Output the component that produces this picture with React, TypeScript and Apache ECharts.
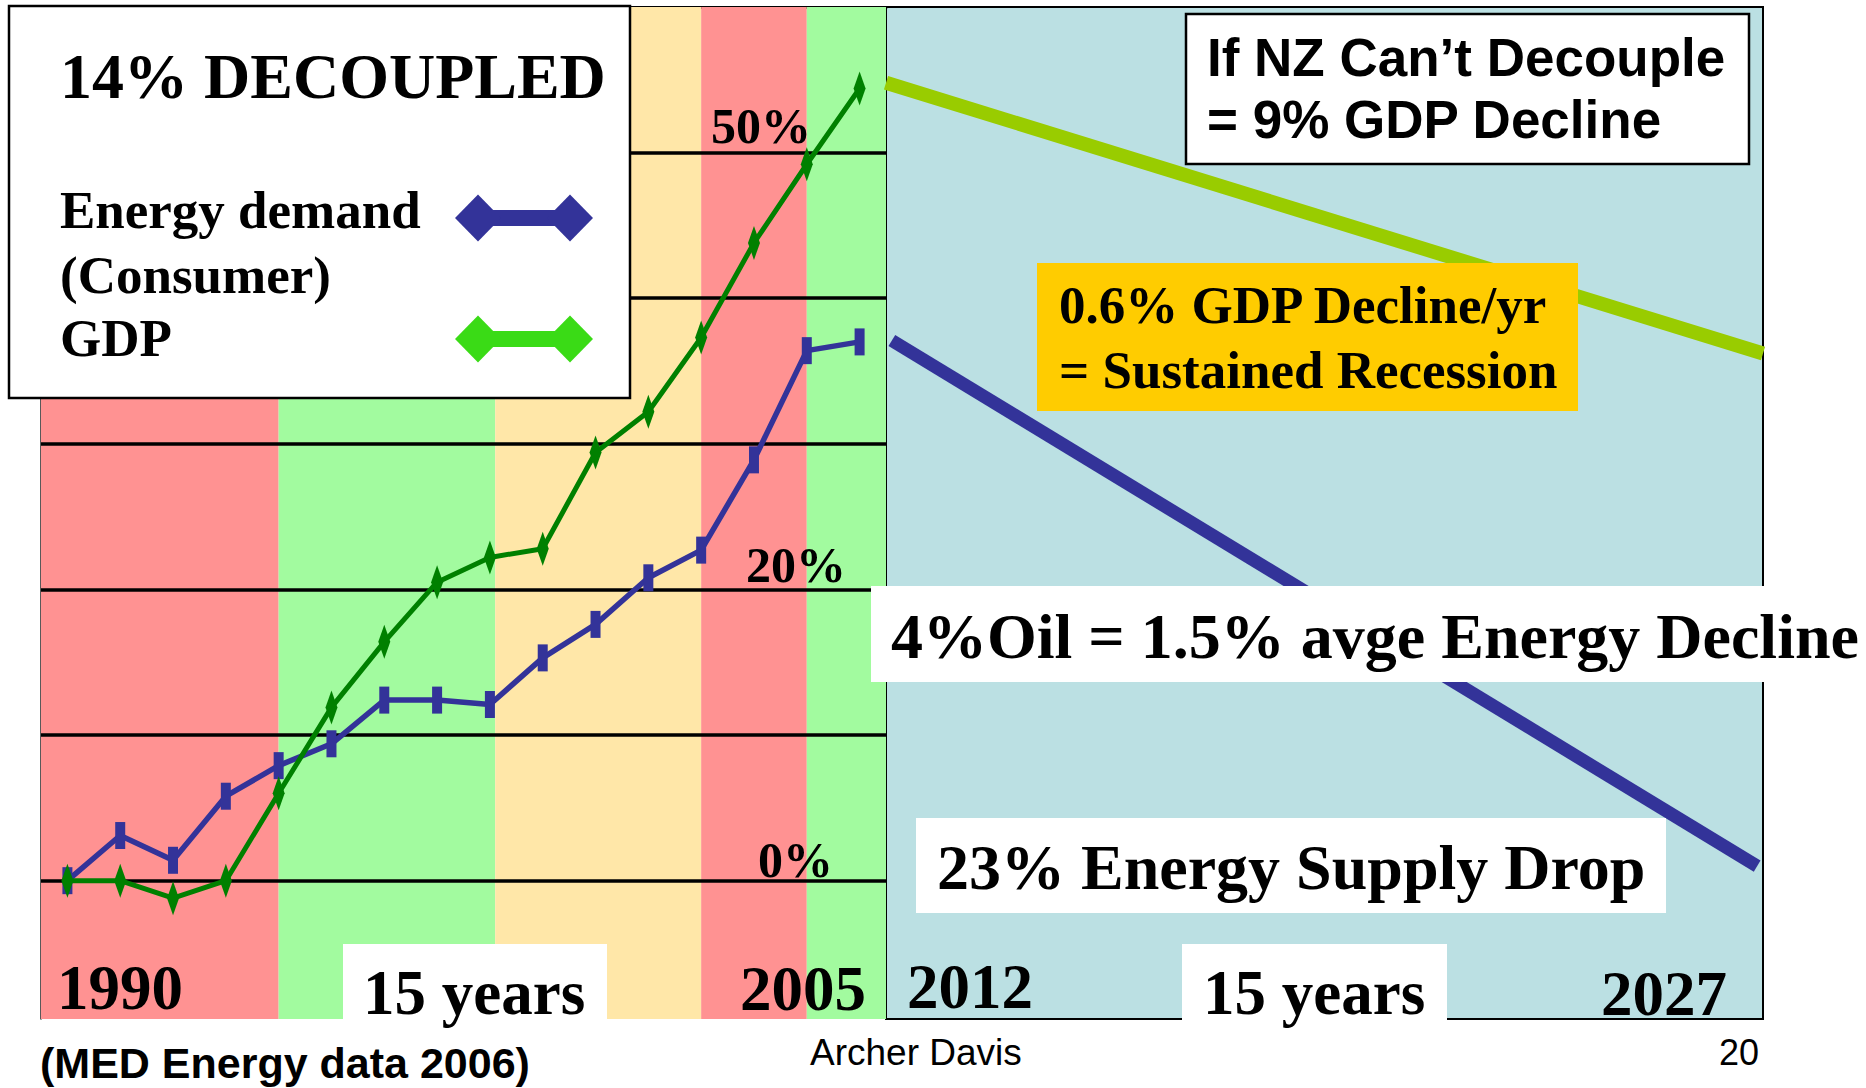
import React, { useEffect, useRef } from 'react';
import * as echarts from 'echarts';

// ---------- data ----------
const years = [1990, 1991, 1992, 1993, 1994, 1995, 1996, 1997, 1998, 1999, 2000, 2001, 2002, 2003, 2004, 2005];
const energyDemand = [0, 3.1, 1.4, 5.8, 7.9, 9.4, 12.4, 12.4, 12.1, 15.3, 17.6, 20.8, 22.7, 28.9, 36.4, 37.0];
const gdp = [0, 0, -1.2, 0, 6.0, 11.9, 16.4, 20.5, 22.2, 22.8, 29.4, 32.2, 37.3, 43.8, 49.2, 54.4];
const gridValues = [0, 10, 20, 30, 40, 50];
const bandEdges = [1989.5, 1994, 1998.1, 2002, 2004, 2005.5];
const gdpProjYears = [2012, 2027];
const gdpProjection = [54.8, 36.2];
const energyProjYears = [2012.1, 2026.9];
const energyProjection = [37.1, 1.0];

// ---------- styles ----------
const bandColors = ['#FF9292', '#A2FB9F', '#FFE7A8', '#FF9292', '#A2FB9F'];
const serif = '"Liberation Serif", "Times New Roman", serif';
const sans = '"Liberation Sans", Arial, sans-serif';

function txt(text: string, x: number, baseline: number, size: number, family: string, weight = 'bold', align = 'left') {
  const k = family === serif ? 0.3375 : 0.3465;
  return {
    type: 'text',
    z: 110,
    x,
    y: baseline - k * size,
    style: {
      text,
      fontSize: size,
      fontFamily: family,
      fontWeight: weight,
      fill: '#000',
      align,
      verticalAlign: 'middle',
      textAlign: align,
      textVerticalAlign: 'middle',
    },
  };
}

function box(x: number, y: number, w: number, h: number, fill: string, stroke?: string, lw = 0) {
  return {
    type: 'rect',
    z: 100,
    shape: { x, y, width: w, height: h },
    style: stroke ? { fill, stroke, lineWidth: lw } : { fill },
  };
}

function legendIcon(cy: number, color: string) {
  const d = (cx: number) => ({
    type: 'polygon',
    z: 105,
    shape: { points: [[cx - 23, cy], [cx, cy - 23.5], [cx + 23, cy], [cx, cy + 23.5]] },
    style: { fill: color },
  });
  return [
    { type: 'rect', z: 105, shape: { x: 478, y: cy - 8, width: 92, height: 16 }, style: { fill: color } },
    d(478),
    d(570),
  ];
}

export default function App() {
  const ref = useRef<HTMLDivElement>(null);
  useEffect(() => {
    if (!ref.current) return;
    const chart = echarts.init(ref.current, undefined, { renderer: 'svg' });
    const yMin = -9.5;
    const yMax = 60;
    const option: any = {
      animation: false,
      backgroundColor: '#fff',
      grid: [
        { left: 41, top: 7, width: 845, height: 1012 },
        { left: 886, top: 7, width: 877, height: 1012, show: true, backgroundColor: '#BBE0E3', borderColor: '#000', borderWidth: 2 },
      ],
      xAxis: [
        {
          type: 'value', gridIndex: 0, min: bandEdges[0], max: bandEdges[bandEdges.length - 1], position: 'top',
          axisLine: { show: true, onZero: false, lineStyle: { color: '#000', width: 3 } },
          axisTick: { show: false }, axisLabel: { show: false }, splitLine: { show: false },
        },
        { type: 'value', gridIndex: 1, min: gdpProjYears[0], max: gdpProjYears[1], show: false, splitLine: { show: false } },
      ],
      yAxis: [
        {
          type: 'value', gridIndex: 0, min: yMin, max: yMax,
          axisLine: { show: true, onZero: false, lineStyle: { color: '#222', width: 1.5 } },
          axisTick: { show: false }, axisLabel: { show: false }, splitLine: { show: false },
        },
        { type: 'value', gridIndex: 1, min: yMin, max: yMax, show: false, splitLine: { show: false } },
      ],
      series: [
        {
          name: 'Energy demand (Consumer)',
          type: 'line',
          xAxisIndex: 0, yAxisIndex: 0,
          data: years.map((y, i) => [y, energyDemand[i]]),
          symbol: 'rect',
          symbolSize: [10, 27],
          showAllSymbol: true,
          lineStyle: { color: '#333399', width: 5.5 },
          itemStyle: { color: '#333399' },
          markArea: {
            silent: true,
            z: 1,
            data: bandColors.map((c, i) => [
              { xAxis: bandEdges[i], itemStyle: { color: c } },
              { xAxis: bandEdges[i + 1] },
            ]),
          },
          markLine: {
            silent: true,
            z: 1.5,
            symbol: ['none', 'none'],
            label: { show: false },
            lineStyle: { color: '#000', width: 3.5, type: 'solid' },
            data: gridValues.map((v) => ({ yAxis: v })),
          },
        },
        {
          name: 'GDP',
          type: 'line',
          xAxisIndex: 0, yAxisIndex: 0,
          data: years.map((y, i) => [y, gdp[i]]),
          symbol: 'diamond',
          symbolSize: [12, 34],
          showAllSymbol: true,
          lineStyle: { color: '#008000', width: 5 },
          itemStyle: { color: '#008000' },
        },
        {
          name: 'GDP projection',
          type: 'line',
          xAxisIndex: 1, yAxisIndex: 1,
          data: gdpProjYears.map((y, i) => [y, gdpProjection[i]]),
          symbol: 'none',
          lineStyle: { color: '#99CC00', width: 14, cap: 'butt' },
        },
        {
          name: 'Energy projection',
          type: 'line',
          xAxisIndex: 1, yAxisIndex: 1,
          data: energyProjYears.map((y, i) => [y, energyProjection[i]]),
          symbol: 'none',
          lineStyle: { color: '#333399', width: 13, cap: 'butt' },
        },
      ],
      graphic: [
        // legend box
        box(9, 6, 621, 392, '#fff', '#000', 2.5),
        txt('14% DECOUPLED', 60, 98, 64, serif),
        txt('Energy demand', 60, 228, 53, serif),
        txt('(Consumer)', 60, 293, 53, serif),
        txt('GDP', 60, 356, 53, serif),
        ...legendIcon(218, '#333399'),
        ...legendIcon(339, '#3ADB16'),
        // tick labels
        txt('50%', 711, 143, 50, serif),
        txt('20%', 746, 582, 50, serif),
        txt('0%', 758, 877, 50, serif),
        // years
        txt('1990', 57, 1009, 63, serif),
        txt('2005', 740, 1010, 63, serif),
        txt('2012', 907, 1008, 63, serif),
        txt('2027', 1727, 1015, 63, serif, 'bold', 'right'),
        box(343, 944, 264, 76, '#fff'),
        txt('15 years', 363, 1014, 63, serif),
        box(1182, 944, 265, 76, '#fff'),
        txt('15 years', 1203, 1014, 63, serif),
        // annotations
        box(1186, 14, 563, 150, '#fff', '#000', 2.5),
        txt('If NZ Can\u2019t Decouple', 1207, 76, 53, sans),
        txt('= 9% GDP Decline', 1207, 138, 53, sans),
        box(1037, 263, 541, 148, '#FFCC00'),
        txt('0.6% GDP Decline/yr', 1059, 323, 53, serif),
        txt('= Sustained Recession', 1059, 388, 53, serif),
        box(871, 586, 995, 96, '#fff'),
        txt('4%Oil = 1.5% avge Energy Decline', 891, 658, 64, serif),
        box(916, 818, 750, 95, '#fff'),
        txt('23% Energy Supply Drop', 937, 889, 64, serif),
        // footer
        txt('(MED Energy data 2006)', 40, 1078, 43, sans),
        txt('Archer Davis', 810, 1065, 37, sans, 'normal'),
        txt('20', 1759, 1065, 36, sans, 'normal', 'right'),
      ],
    };
    chart.setOption(option);
    return () => chart.dispose();
  }, []);
  return <div ref={ref} style={{ position: 'absolute', left: 0, top: 0, width: 1866, height: 1088 }} />;
}
